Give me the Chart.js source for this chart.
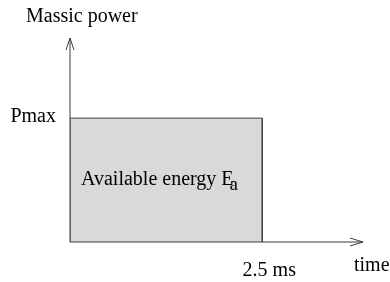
<!DOCTYPE html>
<html>
<head>
<meta charset="utf-8">
<script src="https://cdn.jsdelivr.net/npm/chart.js@4"></script>
<style>
  html, body { margin: 0; padding: 0; background: #fff; }
  #wrap { width: 390px; height: 282px; }
</style>
</head>
<body>
<div id="wrap"><canvas id="powerChart" width="390" height="282"></canvas></div>
<script>
// Data
const pulseTimes = [0, 0, 2.5, 2.5];   // ms
const pulsePower = [0, 1, 1, 0];       // relative to Pmax
const xTickValues = [2.5];
const xTickLabels = ['2.5 ms'];
const yTickValues = [1];
const yTickLabels = ['Pmax'];
const axisTitles = { x: 'time', y: 'Massic power' };
const areaLabel = 'Available energy E';
const areaSub = 'a';

const FONT = '"Liberation Serif", "DejaVu Serif", serif';
const INK = '#3c3c3c';

// Axes, arrows and labels drawn on top of the hidden scales
const sketchAxes = {
  id: 'sketchAxes',
  afterDatasetsDraw(chart) {
    const ctx = chart.ctx;
    const xs = chart.scales.x, ys = chart.scales.y;
    const x0 = xs.getPixelForValue(0), y0 = ys.getPixelForValue(0);
    const xEnd = xs.right, yTop = ys.top;

    ctx.save();
    ctx.strokeStyle = INK;
    ctx.lineWidth = 1;
    ctx.beginPath();
    ctx.moveTo(x0, y0); ctx.lineTo(xEnd, y0);
    ctx.moveTo(x0, y0); ctx.lineTo(x0, yTop);
    // arrow heads (open)
    ctx.moveTo(xEnd - 13, y0 - 4); ctx.lineTo(xEnd, y0); ctx.lineTo(xEnd - 13, y0 + 4);
    ctx.moveTo(x0 - 4, yTop + 12); ctx.lineTo(x0, yTop); ctx.lineTo(x0 + 4, yTop + 12);
    ctx.stroke();

    ctx.fillStyle = '#000';
    ctx.font = '20px ' + FONT;
    ctx.textBaseline = 'middle';

    ctx.textAlign = 'left';
    ctx.fillText(axisTitles.y, 26, 17);
    ctx.fillText(axisTitles.x, 354, 266);

    ctx.textAlign = 'right';
    yTickValues.forEach((v, i) => ctx.fillText(yTickLabels[i], x0 - 14, ys.getPixelForValue(v) - 1));
    ctx.textAlign = 'center';
    xTickValues.forEach((v, i) => ctx.fillText(xTickLabels[i], xs.getPixelForValue(v) + 7, y0 + 29));

    // label inside the area
    ctx.textAlign = 'left';
    const lx = x0 + 11, ly = ys.getPixelForValue(0.5);
    ctx.fillText(areaLabel, lx, ly);
    const w = ctx.measureText(areaLabel).width;
    ctx.font = '19px ' + FONT;
    ctx.fillText(areaSub, lx + w - 4, ly + 5);
    ctx.restore();
  }
};

new Chart(document.getElementById('powerChart'), {
  type: 'line',
  data: {
    datasets: [{
      data: pulseTimes.map((t, i) => ({ x: t, y: pulsePower[i] })),
      borderColor: '#444',
      borderWidth: 1,
      backgroundColor: '#d9d9d9',
      fill: 'origin',
      pointRadius: 0,
      tension: 0
    }]
  },
  options: {
    responsive: false,
    animation: false,
    layout: { padding: { left: 70, right: 27, top: 38, bottom: 40 } },
    plugins: { legend: { display: false }, tooltip: { enabled: false } },
    scales: {
      x: { type: 'linear', display: false, min: 0, max: 3.81 },
      y: { type: 'linear', display: false, min: 0, max: 1.647 }
    }
  },
  plugins: [sketchAxes]
});
</script>
</body>
</html>
